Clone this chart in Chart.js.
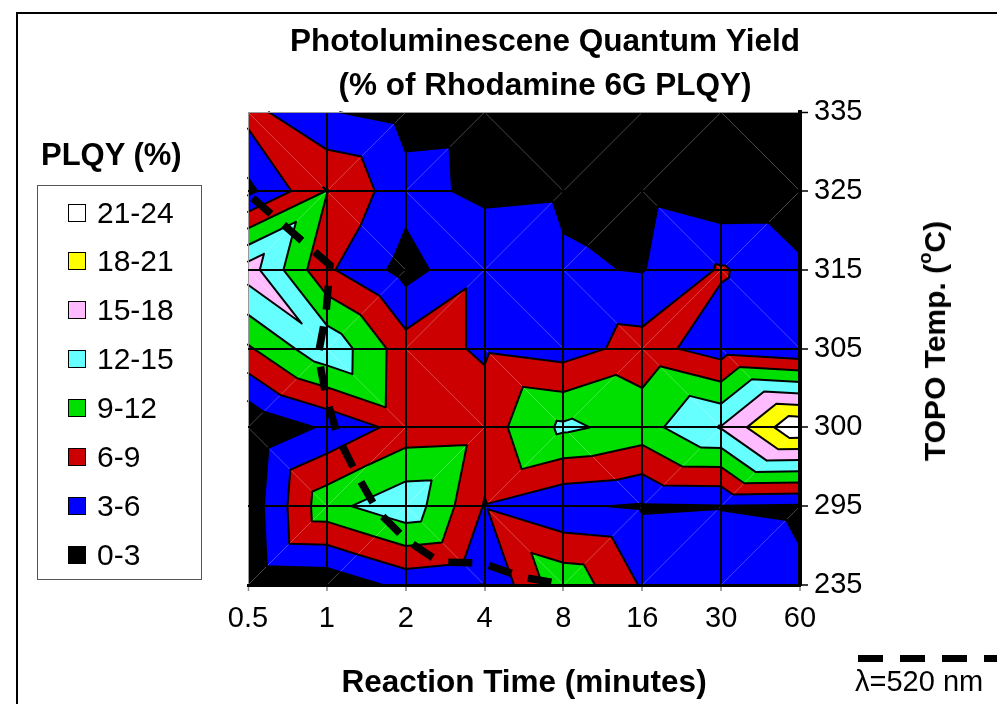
<!DOCTYPE html>
<html>
<head>
<meta charset="utf-8">
<script src="https://cdn.jsdelivr.net/npm/chart.js@4.4.1/dist/chart.umd.min.js"></script>
<style>
  body { margin: 0; background: #fff; overflow: hidden; font-family: 'Liberation Sans', Arial, sans-serif; color: #000; }
  #wrap { position: relative; width: 997px; height: 704px; overflow: hidden; }
  #frame { position: absolute; left: 16px; top: 12px; width: 1100px; height: 800px; border: 2px solid #000; }
  #plqy-chart { position: absolute; left: 0; top: 0; }
  .abs { position: absolute; white-space: nowrap; }
  #legend-title { left: 41px; top: 139px; font-weight: bold; font-size: 31px; line-height: 31px; }
  #legend-box { left: 37px; top: 185px; width: 163px; height: 393px; border: 1.5px solid #555; }
  .swatch { position: absolute; width: 16px; height: 16px; border: 1.5px solid #000; }
  .item-text { position: absolute; font-size: 30px; line-height: 30px; }
  #y-title { left: 935px; top: 341px; font-weight: bold; font-size: 30px; transform: translate(-50%, -50%) rotate(-90deg); }
  #y-title sup { font-size: 0.62em; line-height: 0; vertical-align: 0.75em; }
  #lambda-line { left: 858px; top: 655px; width: 139px; height: 7px;
    background: repeating-linear-gradient(to right, #000 0 25px, transparent 25px 42px); }
  #lambda-text { left: 855px; top: 667px; font-size: 29px; line-height: 29px; }
</style>
</head>
<body>
<div id="wrap">
  <div id="frame"></div>
  <canvas id="plqy-chart" width="997" height="704"></canvas>
  <div id="legend-title" class="abs">PLQY (%)</div>
  <div id="legend-box" class="abs"></div>
  <div id="y-title" class="abs">TOPO Temp. (<sup>o</sup>C)</div>
  <div id="lambda-line" class="abs"></div>
  <div id="lambda-text" class="abs">λ=520 nm</div>
</div>
<script>
const xLabels = ['0.5', '1', '2', '4', '8', '16', '30', '60'];
const yLabels = ['235', '295', '300', '305', '315', '325', '335'];

// PLQY (%) at each reaction time, one array per TOPO temperature
const plqy235 = [0.5, 0.8, 3.9, 2.9, 11.2, 5.7, 4.9, 3.4];
const plqy295 = [1.0, 11.0, 14.2, 5.8, 3.4, 2.7, 2.9, 2.6];
const plqy300 = [0.2, 3.5, 7.2, 7.5, 12.6, 10.8, 15.2, 23.8];
const plqy305 = [8.6, 14.3, 7.3, 5.6, 4.6, 7.2, 4.5, 3.3];
const plqy315 = [16.5, 6.5, 1.9, 5.6, 3.35, 2.85, 6.3, 3.6];
const plqy325 = [2.2, 9.1, 4.0, 2.3, 2.6, 2.2, 0.7, 0.8];
const plqy335 = [7.0, 3.2, 2.0, 2.2, 1.0, 1.0, 0.8, 0.8];

const levels = [0, 3, 6, 9, 12, 15, 18, 21];
const bandLabels = ['0-3', '3-6', '6-9', '9-12', '12-15', '15-18', '18-21', '21-24'];
const bandColors = ['#000000', '#0000ff', '#cc0000', '#00e000', '#66ffff', '#ffbbff', '#ffff00', '#ffffff'];

// lambda = 520 nm line, in category positions
const lambdaX = [0.06, 1.04, 0.99, 0.89, 0.99, 1.14, 1.38, 1.65, 2.01, 2.43, 2.96, 3.48, 3.99];
const lambdaY = [4.91, 4.06, 3.45, 2.92, 2.39, 1.88, 1.40, 0.93, 0.57, 0.29, 0.28, 0.10, 0.01];

Chart.defaults.font.family = "'Liberation Sans', Arial, sans-serif";
Chart.defaults.color = '#000';

// legend on the left
const box = document.getElementById('legend-box');
bandLabels.slice().reverse().forEach((label, k) => {
  const color = bandColors[bandLabels.length - 1 - k];
  const yc = 27 + 48.9 * k;
  const sw = document.createElement('div');
  sw.className = 'swatch';
  sw.style.left = '30px';
  sw.style.top = (yc - 9.5) + 'px';
  sw.style.background = color;
  box.appendChild(sw);
  const tx = document.createElement('div');
  tx.className = 'item-text';
  tx.style.left = '59px';
  tx.style.top = (yc - 15.5) + 'px';
  tx.textContent = label;
  box.appendChild(tx);
});

const clipAbove = (poly, lvl) => {
  const out = [];
  for (let i = 0; i < poly.length; i++) {
    const a = poly[i];
    const b = poly[(i + 1) % poly.length];
    const ain = a.v >= lvl;
    const bin = b.v >= lvl;
    if (ain) out.push(a);
    if (ain !== bin) {
      const t = (lvl - a.v) / (b.v - a.v);
      out.push({ x: a.x + t * (b.x - a.x), y: a.y + t * (b.y - a.y), v: lvl });
    }
  }
  return out;
};

const contourPlugin = {
  id: 'contour',
  beforeDraw(chart) {
    const { ctx, scales: { x, y } } = chart;
    const px = (p) => [x.getPixelForValue(p.x), y.getPixelForValue(p.y)];
    const rows = [plqy235, plqy295, plqy300, plqy305, plqy315, plqy325, plqy335];
    const node = (i, j) => ({ x: i, y: j, v: rows[j][i] });
    const tris = [];
    const diags = [];
    for (let j = 0; j < rows.length - 1; j++) {
      for (let i = 0; i < xLabels.length - 1; i++) {
        const bl = node(i, j);
        const br = node(i + 1, j);
        const tl = node(i, j + 1);
        const tr = node(i + 1, j + 1);
        if (tl.v + br.v > bl.v + tr.v) {
          tris.push([tl, tr, br], [tl, br, bl]);
          diags.push([tl, br]);
        } else {
          tris.push([bl, tl, tr], [bl, tr, br]);
          diags.push([bl, tr]);
        }
      }
    }
    ctx.save();
    // filled bands, painted from the lowest level up
    levels.forEach((lvl, k) => {
      ctx.beginPath();
      tris.forEach((t) => {
        const poly = clipAbove(t, lvl);
        if (poly.length < 3) return;
        poly.forEach((p, n) => {
          const [a, b] = px(p);
          if (n) ctx.lineTo(a, b);
          else ctx.moveTo(a, b);
        });
        ctx.closePath();
      });
      ctx.fillStyle = bandColors[k];
      ctx.fill();
    });
    // faint triangulation diagonals
    ctx.beginPath();
    diags.forEach(([p, q]) => {
      ctx.moveTo(...px(p));
      ctx.lineTo(...px(q));
    });
    ctx.strokeStyle = 'rgba(255,255,255,0.28)';
    ctx.lineWidth = 1;
    ctx.stroke();
    // contour lines
    ctx.beginPath();
    levels.slice(1).forEach((lvl) => {
      tris.forEach((t) => {
        const pts = [];
        for (let n = 0; n < 3; n++) {
          const a = t[n];
          const b = t[(n + 1) % 3];
          if ((a.v - lvl) * (b.v - lvl) < 0) {
            const f = (lvl - a.v) / (b.v - a.v);
            pts.push(px({ x: a.x + f * (b.x - a.x), y: a.y + f * (b.y - a.y) }));
          }
        }
        if (pts.length === 2) {
          ctx.moveTo(...pts[0]);
          ctx.lineTo(...pts[1]);
        }
      });
    });
    ctx.strokeStyle = '#000';
    ctx.lineWidth = 2;
    ctx.lineCap = 'round';
    ctx.stroke();
    ctx.restore();
  },
};

const edgeColor = (edge) => (c) => (c.tick && c.tick.value === edge ? '#999' : '#000');
const edgeWidth = (edge) => (c) => (c.tick && c.tick.value === edge ? 1 : 2);

new Chart(document.getElementById('plqy-chart'), {
  type: 'scatter',
  data: {
    datasets: [
      {
        label: 'λ=520 nm',
        data: lambdaX.map((v, i) => ({ x: v, y: lambdaY[i] })),
        showLine: true,
        borderColor: '#000',
        borderWidth: 7.5,
        borderDash: [24, 17],
        borderCapStyle: 'butt',
        pointRadius: 0,
        tension: 0,
      },
    ],
  },
  options: {
    responsive: false,
    animation: false,
    layout: { padding: { left: 220, right: 127, top: 20, bottom: 0 } },
    plugins: {
      legend: { display: false },
      tooltip: { enabled: false },
      title: {
        display: true,
        text: ['Photoluminescene Quantum Yield', '(% of Rhodamine 6G PLQY)'],
        font: { size: 31.5, weight: 'bold', lineHeight: 1.4 },
        color: '#000',
        padding: { top: 0, bottom: 4 },
      },
    },
    scales: {
      x: {
        type: 'linear',
        min: 0,
        max: 7,
        afterFit(s) {
          // push the plot area's left edge out to x = 248
          s.paddingLeft = 248;
          s.paddingRight = 0;
          s.height = 119;
        },
        ticks: {
          stepSize: 1,
          autoSkip: false,
          maxRotation: 0,
          padding: 11,
          font: { size: 29 },
          callback: (v) => xLabels[v],
        },
        grid: {
          color: edgeColor(0),
          lineWidth: edgeWidth(0),
          tickLength: 6,
          tickColor: '#888',
          tickWidth: 1.5,
        },
        border: { color: '#000', width: 3 },
        title: {
          display: true,
          text: 'Reaction Time (minutes)',
          font: { size: 31.5, weight: 'bold' },
          padding: { top: 0, bottom: 2 },
        },
      },
      y: {
        type: 'linear',
        position: 'right',
        min: 0,
        max: 6,
        afterFit(s) {
          s.width = 70;
          s.paddingTop = 0;
          s.paddingBottom = 0;
        },
        ticks: {
          stepSize: 1,
          padding: 6,
          font: { size: 29 },
          callback: (v) => yLabels[v],
        },
        grid: {
          color: edgeColor(6),
          lineWidth: edgeWidth(6),
          tickLength: 8,
          tickColor: '#000',
          tickWidth: 1.5,
        },
        border: { color: '#000', width: 4 },
      },
    },
  },
  plugins: [contourPlugin],
});
</script>
</body>
</html>
